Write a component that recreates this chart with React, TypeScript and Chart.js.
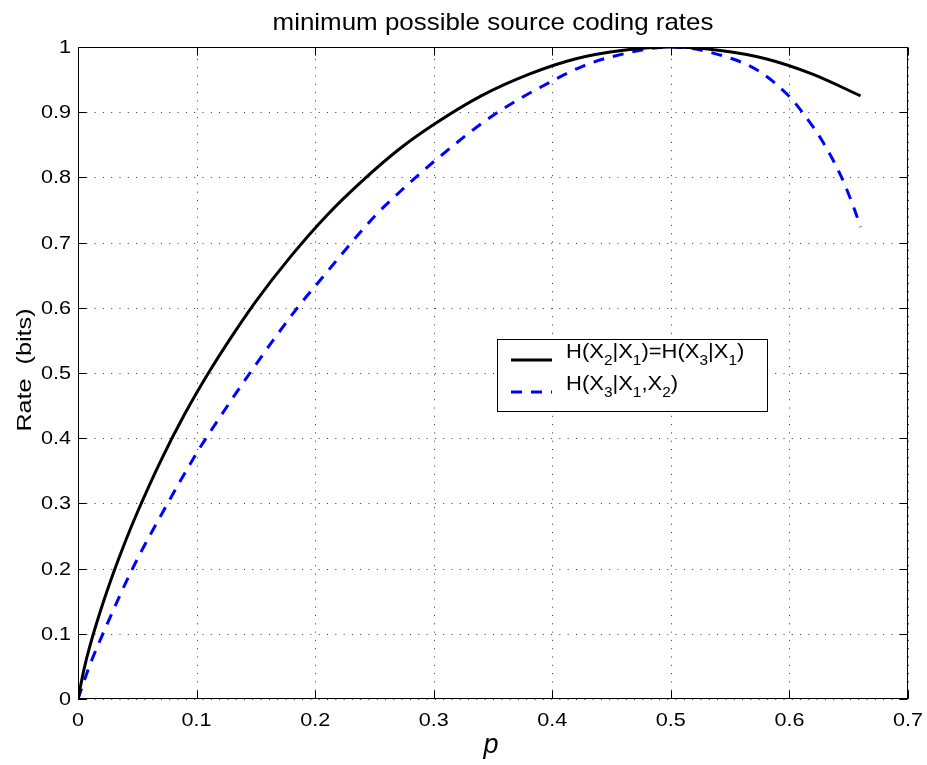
import React, { useEffect, useRef } from "react";
import { Chart, registerables } from "chart.js";

Chart.register(...registerables);

const TITLE = "minimum possible source coding rates";
const X_LABEL = "p";
const Y_LABEL = "Rate  (bits)";

const X_TICKS = [0, 0.1, 0.2, 0.3, 0.4, 0.5, 0.6, 0.7];
const X_TICK_LABELS = ["0", "0.1", "0.2", "0.3", "0.4", "0.5", "0.6", "0.7"];
const Y_TICKS = [0, 0.1, 0.2, 0.3, 0.4, 0.5, 0.6, 0.7, 0.8, 0.9, 1];
const Y_TICK_LABELS = ["0", "0.1", "0.2", "0.3", "0.4", "0.5", "0.6", "0.7", "0.8", "0.9", "1"];

// H(X2|X1) = H(X3|X1)
const P_BLACK = [0, 0.005, 0.01, 0.02, 0.03, 0.04, 0.05, 0.07, 0.09, 0.11, 0.13, 0.15, 0.18, 0.21, 0.24, 0.27, 0.3, 0.34, 0.38, 0.42, 0.46, 0.5, 0.54, 0.58, 0.62, 0.66];
const R_BLACK = [0, 0.045, 0.081, 0.141, 0.194, 0.242, 0.286, 0.366, 0.437, 0.5, 0.557, 0.61, 0.68, 0.742, 0.795, 0.842, 0.881, 0.925, 0.958, 0.982, 0.995, 1.0, 0.995, 0.982, 0.958, 0.925];

// H(X3|X1,X2)
const P_BLUE = [0, 0.01, 0.021, 0.046, 0.0756, 0.1, 0.108, 0.145, 0.185, 0.2, 0.25, 0.2715, 0.3, 0.35, 0.4, 0.425, 0.45, 0.5, 0.55, 0.575, 0.6, 0.61, 0.628, 0.644, 0.654, 0.66];
const R_BLUE = [0, 0.052, 0.1, 0.2, 0.3, 0.377, 0.4, 0.5, 0.6, 0.633, 0.74, 0.778, 0.824, 0.895, 0.948, 0.97, 0.985, 1.0, 0.983, 0.962, 0.924, 0.902, 0.855, 0.8, 0.755, 0.724];

const LEGEND_1 = [
  { t: "H(X" }, { t: "2", sub: true }, { t: "|X" }, { t: "1", sub: true }, { t: ")=H(X" }, { t: "3", sub: true }, { t: "|X" }, { t: "1", sub: true }, { t: ")" },
];
const LEGEND_2 = [
  { t: "H(X" }, { t: "3", sub: true }, { t: "|X" }, { t: "1", sub: true }, { t: ",X" }, { t: "2", sub: true }, { t: ")" },
];

const FONT = '"Liberation Sans", Arial, Helvetica, sans-serif';

function font(size: number, italic = false) {
  return `${italic ? "italic " : ""}${size}px ${FONT}`;
}

function drawText(ctx: CanvasRenderingContext2D, s: string, x: number, y: number, size: number, sx: number, align: CanvasTextAlign, baseline: CanvasTextBaseline, rot = 0, italic = false) {
  ctx.save();
  ctx.translate(x, y);
  if (rot) ctx.rotate(rot);
  ctx.scale(sx, 1);
  ctx.font = font(size, italic);
  ctx.fillStyle = "#000";
  ctx.textAlign = align;
  ctx.textBaseline = baseline;
  ctx.fillText(s, 0, 0);
  ctx.restore();
}

function drawRich(ctx: CanvasRenderingContext2D, segs: { t: string; sub?: boolean }[], x: number, y: number, size: number, subSize: number, subDy: number, sx: number) {
  let cx = x;
  for (const seg of segs) {
    const sz = seg.sub ? subSize : size;
    ctx.save();
    ctx.font = font(sz);
    const w = ctx.measureText(seg.t).width * sx;
    ctx.translate(cx, y + (seg.sub ? subDy : 0));
    ctx.scale(sx, 1);
    ctx.fillStyle = "#000";
    ctx.textAlign = "left";
    ctx.textBaseline = "alphabetic";
    ctx.fillText(seg.t, 0, 0);
    ctx.restore();
    cx += w;
  }
}

const decorPlugin = {
  id: "decor",
  beforeDatasetsDraw(chart: any) {
    const ctx = chart.ctx as CanvasRenderingContext2D;
    const { left, right, top, bottom } = chart.chartArea;
    const xs = chart.scales.x;
    const ys = chart.scales.y;
    ctx.save();
    ctx.strokeStyle = "rgba(0,0,0,0.8)";
    ctx.lineWidth = 1;
    ctx.setLineDash([1, 7.3]);
    X_TICKS.forEach((v) => {
      const px = Math.round(xs.getPixelForValue(v)) + 0.5;
      ctx.beginPath();
      ctx.moveTo(px, bottom);
      ctx.lineTo(px, top);
      ctx.stroke();
    });
    Y_TICKS.forEach((v) => {
      const py = Math.round(ys.getPixelForValue(v)) + 0.5;
      ctx.beginPath();
      ctx.moveTo(left, py);
      ctx.lineTo(right, py);
      ctx.stroke();
    });
    ctx.restore();
  },
  afterDraw(chart: any) {
    const ctx = chart.ctx as CanvasRenderingContext2D;
    const { left, right, top, bottom } = chart.chartArea;
    const xs = chart.scales.x;
    const ys = chart.scales.y;
    const L = Math.round(left) + 0.5;
    const R = Math.round(right) - 0.5;
    const T = Math.round(top) + 0.5;
    const B = Math.round(bottom) - 0.5;
    ctx.save();
    ctx.setLineDash([]);
    ctx.strokeStyle = "#000";
    ctx.lineWidth = 1;
    ctx.strokeRect(L, T, R - L, B - T);
    const TL = 8;
    ctx.beginPath();
    X_TICKS.forEach((v) => {
      const px = Math.round(xs.getPixelForValue(v)) + 0.5;
      ctx.moveTo(px, B);
      ctx.lineTo(px, B - TL);
      ctx.moveTo(px, T);
      ctx.lineTo(px, T + TL);
    });
    Y_TICKS.forEach((v) => {
      const py = Math.round(ys.getPixelForValue(v)) + 0.5;
      ctx.moveTo(L, py);
      ctx.lineTo(L + TL, py);
      ctx.moveTo(R, py);
      ctx.lineTo(R - TL, py);
    });
    ctx.stroke();

    // tick labels
    X_TICKS.forEach((v, i) => {
      drawText(ctx, X_TICK_LABELS[i], xs.getPixelForValue(v), bottom + 27, 18, 1.2, "center", "alphabetic");
    });
    Y_TICKS.forEach((v, i) => {
      drawText(ctx, Y_TICK_LABELS[i], left - 7, ys.getPixelForValue(v) + 1, 18, 1.2, "right", "middle");
    });

    // title and axis labels
    drawText(ctx, TITLE, (left + right) / 2, 30, 24, 1.08, "center", "alphabetic");
    drawText(ctx, X_LABEL, (left + right) / 2 - 2, 753, 27, 1.0, "center", "alphabetic", 0, true);
    drawText(ctx, Y_LABEL, 25, (top + bottom) / 2 - 3, 21, 1.2, "center", "middle", -Math.PI / 2);

    // legend
    const bx = 497.5, by = 339.5, bw = 270, bh = 72;
    ctx.fillStyle = "#fff";
    ctx.fillRect(bx, by, bw, bh);
    ctx.strokeStyle = "#000";
    ctx.lineWidth = 1;
    ctx.strokeRect(bx, by, bw, bh);
    const ds = chart.data.datasets;
    ctx.lineWidth = 3;
    ctx.strokeStyle = ds[0].borderColor;
    ctx.beginPath();
    ctx.moveTo(511, 360);
    ctx.lineTo(552, 360);
    ctx.stroke();
    ctx.strokeStyle = ds[1].borderColor;
    ctx.setLineDash(ds[1].borderDash);
    ctx.beginPath();
    ctx.moveTo(511, 392);
    ctx.lineTo(552, 392);
    ctx.stroke();
    ctx.setLineDash([]);
    drawRich(ctx, LEGEND_1, 566, 358, 20, 14, 7, 1.1);
    drawRich(ctx, LEGEND_2, 566, 390, 20, 14, 7, 1.1);
    ctx.restore();
  },
};

export default function App() {
  const ref = useRef<HTMLCanvasElement | null>(null);
  useEffect(() => {
    document.body.style.margin = "0";
    const canvas = ref.current!;
    const chart = new Chart(canvas, {
      type: "line",
      data: {
        datasets: [
          {
            label: "H(X2|X1)=H(X3|X1)",
            data: P_BLACK.map((p, i) => ({ x: p, y: R_BLACK[i] })),
            borderColor: "#000000",
            borderWidth: 3,
            pointRadius: 0,
            cubicInterpolationMode: "monotone",
            fill: false,
          },
          {
            label: "H(X3|X1,X2)",
            data: P_BLUE.map((p, i) => ({ x: p, y: R_BLUE[i] })),
            borderColor: "#0000ff",
            borderWidth: 3,
            borderDash: [11, 9],
            pointRadius: 0,
            cubicInterpolationMode: "monotone",
            fill: false,
          },
        ],
      },
      options: {
        animation: false,
        responsive: false,
        devicePixelRatio: 1,
        layout: { padding: { left: 0, right: 19, top: 47, bottom: 0 } },
        plugins: { legend: { display: false }, title: { display: false }, tooltip: { enabled: false } },
        scales: {
          x: {
            type: "linear",
            min: 0,
            max: 0.7,
            ticks: { display: false, stepSize: 0.1 },
            grid: { display: false },
            border: { display: false },
            afterFit: (s: any) => { s.height = 66; },
          },
          y: {
            type: "linear",
            min: 0,
            max: 1,
            ticks: { display: false, stepSize: 0.1 },
            grid: { display: false },
            border: { display: false },
            afterFit: (s: any) => { s.width = 78; },
          },
        },
      } as any,
      plugins: [decorPlugin],
    });
    return () => chart.destroy();
  }, []);
  return (
    <div style={{ position: "absolute", left: 0, top: 0, width: 927, height: 765, background: "#fff" }}>
      <canvas ref={ref} width={927} height={765} />
    </div>
  );
}
